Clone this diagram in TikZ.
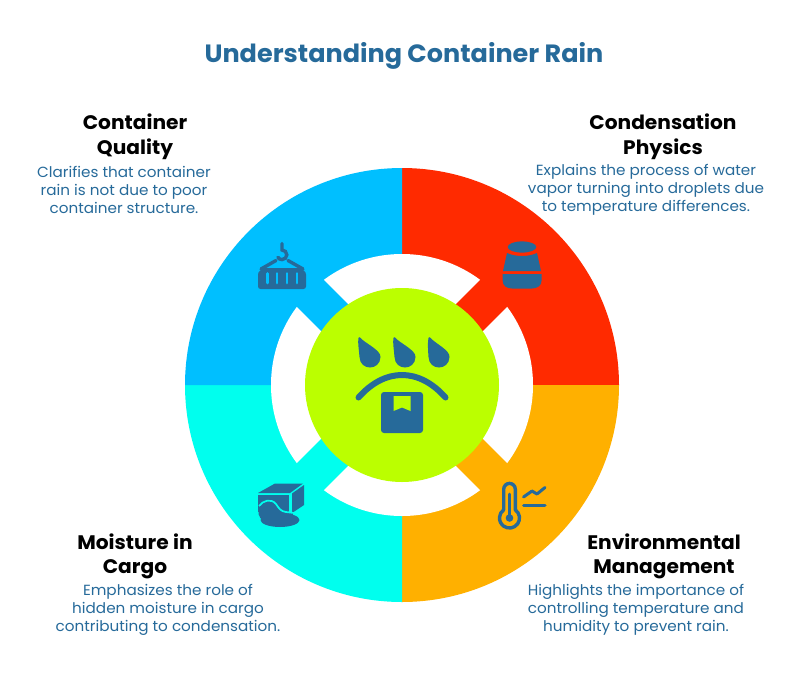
\documentclass[tikz,border=0pt]{standalone}
\usepackage{fontspec}
\setmainfont{Poppins}
\newfontfamily\titlefont[FakeStretch=1.02]{Poppins}
\newfontfamily\headfont[FakeStretch=1.03]{Poppins}
\newfontfamily\descfont[FakeStretch=1.035]{Poppins}
\definecolor{ink}{HTML}{266A9A}
\definecolor{titleblue}{HTML}{266A9A}
\definecolor{qblue}{HTML}{00BFFF}
\definecolor{qred}{HTML}{FF2A00}
\definecolor{qorange}{HTML}{FFB000}
\definecolor{qcyan}{HTML}{00FFEE}
\definecolor{qgreen}{HTML}{BBFF00}
\tikzset{
  titletext/.style={font=\titlefont\bfseries\fontsize{25}{28}\selectfont,text=titleblue,inner sep=0pt},
  headtext/.style={font=\headfont\bfseries\fontsize{19.6}{24.5}\selectfont,text=black,align=center,inner sep=0pt},
  desctext/.style={font=\descfont\fontsize{14.7}{18}\selectfont,text=ink,align=center,inner sep=0pt},
  iconline/.style={draw=ink,line width=3.4pt,line cap=round,line join=round},
  bar/.style={line width=38pt}
}
\begin{document}
\begin{tikzpicture}[x=1pt,y=1pt,yscale=-1]
\useasboundingbox[fill=white] (0,0) rectangle (798,686);
% sectors
\fill[qred]    (402,385) -- (402,168) arc[start angle=-90,end angle=0,radius=217pt] -- cycle;
\fill[qorange] (402,385) -- (619,385) arc[start angle=0,end angle=90,radius=217pt] -- cycle;
\fill[qcyan]   (402,385) -- (402,602) arc[start angle=90,end angle=180,radius=217pt] -- cycle;
\fill[qblue]   (402,385) -- (185,385) arc[start angle=180,end angle=270,radius=217pt] -- cycle;
% white ring
\fill[white] (402,385) circle[radius=131pt];
% diagonal bars
\draw[qred,bar]    (402,385) -- ++(99,-99);
\draw[qorange,bar] (402,385) -- ++(99,99);
\draw[qcyan,bar]   (402,385) -- ++(-99,99);
\draw[qblue,bar]   (402,385) -- ++(-99,-99);
% hub
\fill[qgreen] (402,385) circle[radius=97pt];
% hub icon
\foreach \tx/\cx in {358.5/370,393.5/405,428.5/439}{
  \fill[ink] (\tx,338) .. controls (\tx-1,342) and (\cx-11,350) .. (\cx-10.5,357)
     .. controls (\cx-10,371) and (\cx+10,371) .. (\cx+10.5,357)
     .. controls (\cx+11,350) and (\tx+6,343) .. (\tx+1.5,337.5)
     .. controls (\tx+1,337) and (\tx,337) .. (\tx,338) -- cycle;
}
\draw[ink,line width=6pt,line cap=round] (358.5,397.5) .. controls (385,367.5) and (419,367.5) .. (445.5,397.5);
\fill[ink,rounded corners=3pt] (381,392) rectangle (423,433);
\fill[qgreen] (393.5,396) -- (410.5,396) -- (410.5,411) -- (402,407.5) -- (393.5,411) -- cycle;
% container icon
\fill[ink,rounded corners=2.5pt] (258,289) -- (258,272) -- (264,268) -- (300,268) -- (306,272) -- (306,289) -- cycle;
\foreach \sx in {267.5,277,287,297}{ \draw[qblue,line width=2.8pt,line cap=round] (\sx,273.5) -- (\sx,283); }
\draw[ink,line width=3.4pt,line cap=round] (261,269) -- (276,260.5);
\draw[ink,line width=3.4pt,line cap=round] (288,260.5) -- (303,269);
\draw[ink,line width=3.4pt,line cap=round] (282,243.5) -- (282,250) arc[start angle=-90,end angle=150,radius=4.8pt];
% condensation icon
\fill[ink] (522,247) ellipse[x radius=14.3pt,y radius=5.6pt];
\fill[ink] (507,253) .. controls (516,257) and (528,257) .. (537,253) -- (541,271) -- (503,271) -- cycle;
\fill[ink] (502.5,274) -- (541.7,274) -- (541.7,280) .. controls (541.7,286) and (537,288.5) .. (532,288.5)
  -- (512,288.5) .. controls (507,288.5) and (502.5,286) .. (502.5,280) -- cycle;
% moisture icon
\fill[ink] (258,493) -- (275,483.5) -- (303,483.5) -- (290,493) -- cycle;
\fill[ink] (292,493.5) -- (304,485) -- (304,505) -- (292,513) -- cycle;
\fill[ink] (258,495) -- (288.5,495) -- (288.5,512) -- (258,512) -- cycle;
\fill[ink] (280,520) ellipse[x radius=19.5pt,y radius=7pt];
\fill[ink] (260,507) .. controls (263,502) and (271,499) .. (276,505) .. controls (279,509) and (281,512) .. (286,512.5)
   -- (293,513) -- (292,520) -- (264,521) .. controls (258,518) and (257,511) .. (260,507) -- cycle;
\draw[qcyan,line width=1.7pt] (259,506) .. controls (263,500.5) and (271,498) .. (276,504) .. controls (279,508.5) and (281,511.5) .. (286,512)
   -- (294,513);
% thermometer icon
\draw[iconline] (503.7,510) -- (503.7,489.2) arc[start angle=180,end angle=360,radius=5.8pt] -- (515.3,509.85)
   arc[start angle=-54.5,end angle=234.5,radius=10pt] -- cycle;
\draw[ink,line width=2.6pt,line cap=round] (509.5,494) -- (509.5,516);
\fill[ink] (509.5,518) circle[radius=3.8pt];
\draw[iconline,line width=3pt] (523.5,497) -- (532,491) -- (537,494) -- (545,487.5);
\draw[iconline,line width=3pt] (523.5,505) -- (545,505);
% texts
\node[titletext] (title) at (404,56) {Understanding Container Rain};
\node[headtext] (h1) at (135,136.5) {Container\\Quality};
\node[desctext] (d1) at (124,189.5) {Clarifies that container\\rain is not due to poor\\container structure.};
\node[headtext] (h2) at (663,136.5) {Condensation\\Physics};
\node[desctext] (d2) at (646,189.5) {Explains the process of water\\vapor turning into droplets due\\to temperature differences.};
\node[headtext] (h3) at (135,556.5) {Moisture in\\Cargo};
\node[desctext] (d3) at (168,609.5) {Emphasizes the role of\\hidden moisture in cargo\\contributing to condensation.};
\node[headtext] (h4) at (664,556.5) {Environmental\\Management};
\node[desctext] (d4) at (636,609.5) {Highlights the importance of\\controlling temperature and\\humidity to prevent rain.};
\end{tikzpicture}
\end{document}
